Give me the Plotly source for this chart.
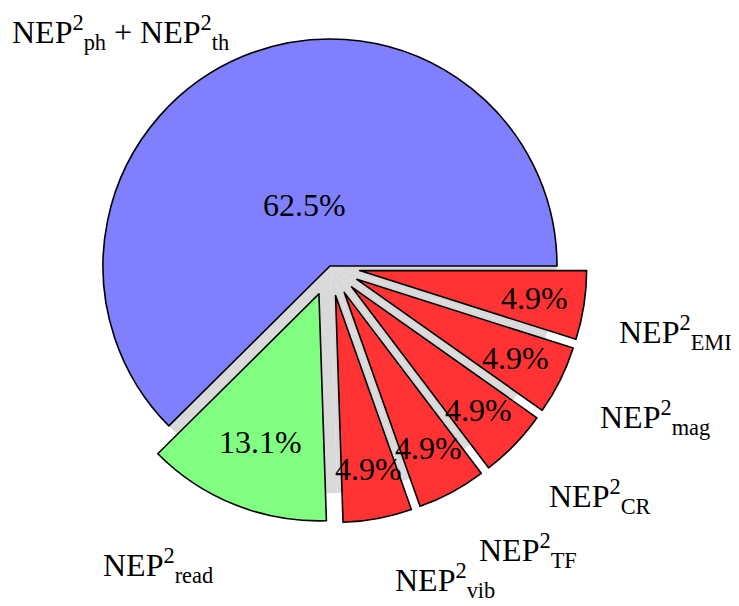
import math
import plotly.graph_objects as go

# ---- data ----
labels = [
    "NEP<sup>2</sup><sub>ph</sub> + NEP<sup>2</sup><sub>th</sub>",
    "NEP<sup>2</sup><sub>read</sub>",
    "NEP<sup>2</sup><sub>vib</sub>",
    "NEP<sup>2</sup><sub>TF</sub>",
    "NEP<sup>2</sup><sub>CR</sub>",
    "NEP<sup>2</sup><sub>mag</sub>",
    "NEP<sup>2</sup><sub>EMI</sub>",
]
shares = [62.5, 13.1, 4.9, 4.9, 4.9, 4.9, 4.9]

# ---- styles ----
colors = ["#8080ff", "#80ff80", "#ff3333", "#ff3333", "#ff3333", "#ff3333", "#ff3333"]
pulls = [0.0, 0.132, 0.132, 0.132, 0.132, 0.132, 0.132]
pct_frac = [0.29, 0.70, 0.78, 0.78, 0.78, 0.78, 0.78]      # from slice apex, in radii
lab_dist = [1.38, 1.52, 1.477, 1.529, 1.565, 1.58, 1.55]    # from pie centre, in radii
lab_dang = [19.5, -8.2, 9.35, 6.5, 3.5, 1.4, -2.1]          # deg offset from bisector

# page has an 8px body margin: figure sized to fill the rest of the window
W, H = 731, 598
CX, CY, R = 322.0, 258.0, 227.0
FONT = "Liberation Serif"
FS = 32

maxpull = max(pulls)
total = sum(shares)


def px_dom(half):
    return dict(x=[(CX - half) / W, (CX + half) / W],
                y=[1 - (CY + half) / H, 1 - (CY - half) / H])


rotation = 90 - 360 * shares[0] / total

fig = go.Figure()
# grey "unexploded" shadow pie underneath
fig.add_trace(go.Pie(
    values=shares, labels=[f"s{i}" for i in range(len(shares))], sort=False,
    direction="counterclockwise", rotation=rotation,
    marker=dict(colors=["#d9d9d9"] * len(shares), line=dict(width=0)),
    textinfo="none", hoverinfo="skip", showlegend=False,
    domain=px_dom(R),
))
# exploded coloured pie
fig.add_trace(go.Pie(
    values=shares, labels=[f"s{i}" for i in range(len(shares))], sort=False,
    direction="counterclockwise", rotation=rotation, pull=pulls,
    marker=dict(colors=colors, line=dict(color="black", width=1.6)),
    textinfo="none", hoverinfo="skip", showlegend=False,
    domain=px_dom(R * (1 + maxpull)),
))

annotations = []
start = 0.0
for i, v in enumerate(shares):
    span = 360 * v / total
    mid = math.radians(start + span / 2)
    start += span
    ax = CX + pulls[i] * R * math.cos(mid)
    ay = CY - pulls[i] * R * math.sin(mid)
    # percentage text
    tx = ax + pct_frac[i] * R * math.cos(mid)
    ty = ay - pct_frac[i] * R * math.sin(mid)
    annotations.append(dict(
        x=tx / W, y=1 - ty / H, xref="paper", yref="paper",
        text=f"{v:.1f}%", showarrow=False, xanchor="center", yanchor="middle",
        font=dict(family=FONT, size=FS, color="black")))
    # outer label
    la = mid + math.radians(lab_dang[i])
    lx = CX + lab_dist[i] * R * math.cos(la)
    ly = CY - lab_dist[i] * R * math.sin(la)
    annotations.append(dict(
        x=lx / W, y=1 - ly / H, xref="paper", yref="paper",
        text=labels[i], showarrow=False, xanchor="center", yanchor="middle",
        font=dict(family=FONT, size=FS, color="black")))

fig.update_layout(
    width=W, height=H, margin=dict(l=0, r=0, t=0, b=0),
    paper_bgcolor="white", plot_bgcolor="white",
    annotations=annotations, showlegend=False,
)
fig.write_html("out.html")
